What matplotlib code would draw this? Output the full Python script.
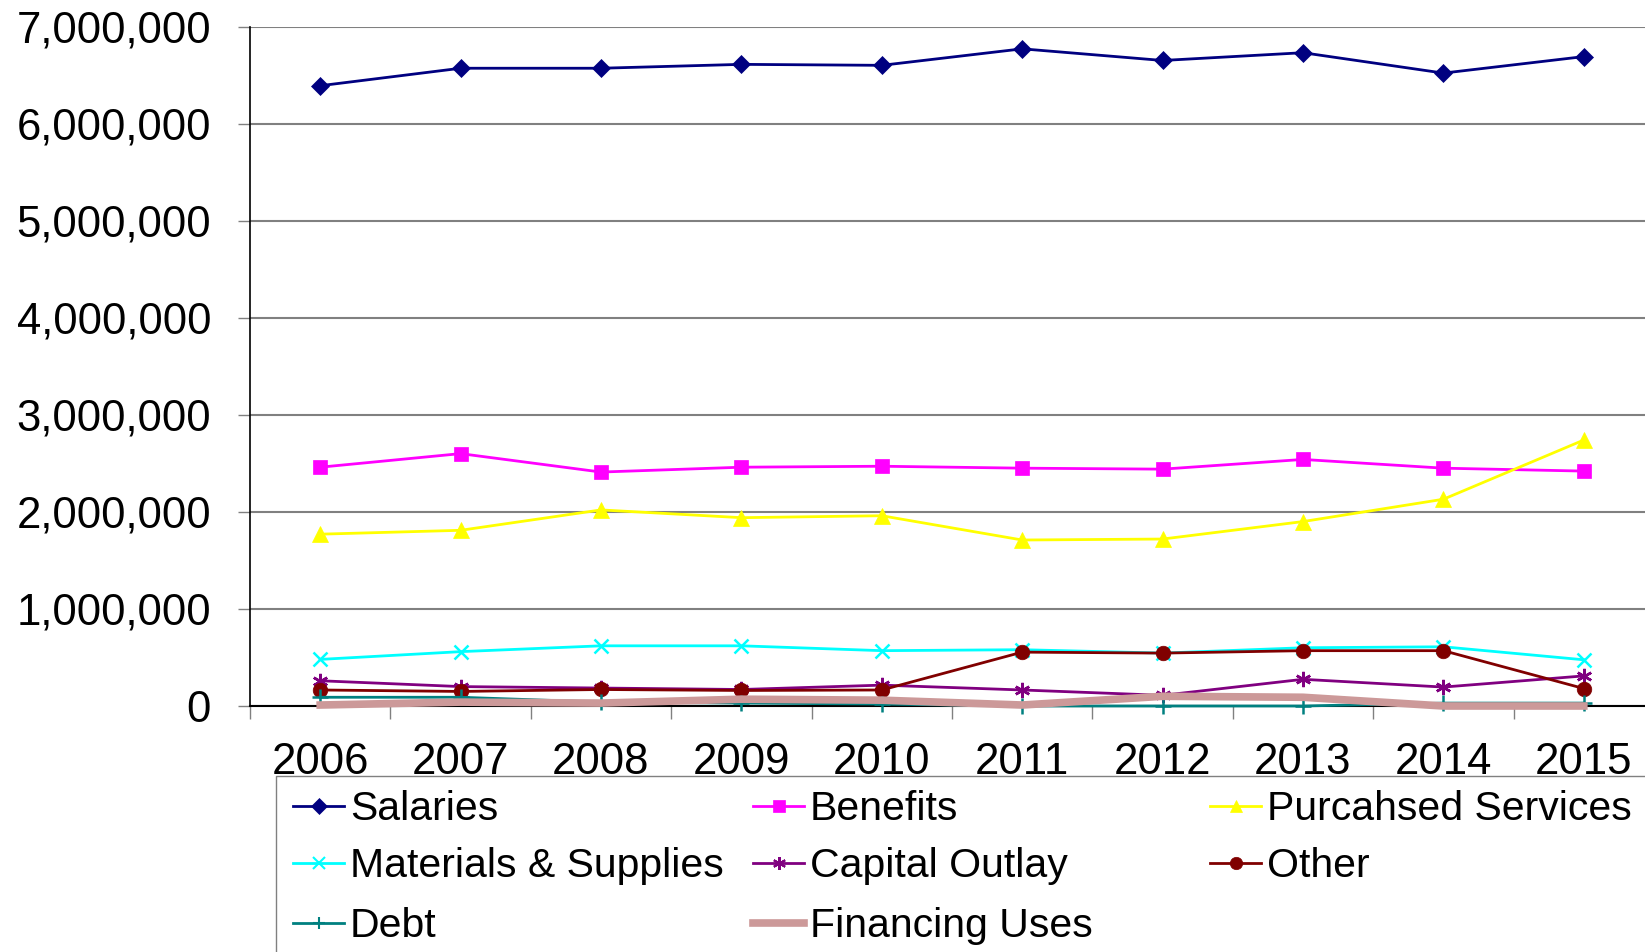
import numpy as np
import matplotlib.pyplot as plt
from matplotlib.lines import Line2D
from matplotlib.ticker import FuncFormatter, FixedLocator

plt.rcParams['font.family'] = ['Liberation Sans', 'DejaVu Sans']

# data
years = ['2006', '2007', '2008', '2009', '2010', '2011', '2012', '2013', '2014', '2015']
salaries = [6390000, 6570000, 6570000, 6610000, 6600000, 6770000, 6650000, 6730000, 6520000, 6690000]
benefits = [2460000, 2600000, 2410000, 2460000, 2470000, 2450000, 2440000, 2540000, 2450000, 2420000]
purchased = [1770000, 1810000, 2020000, 1940000, 1960000, 1710000, 1720000, 1900000, 2130000, 2740000]
materials = [480000, 560000, 620000, 620000, 570000, 580000, 545000, 600000, 610000, 476000]
capital = [260000, 200000, 185000, 170000, 215000, 165000, 110000, 275000, 195000, 310000]
other = [165000, 150000, 170000, 160000, 165000, 555000, 545000, 570000, 570000, 180000]
debt = [90000, 90000, 40000, 30000, 20000, 0, 0, 0, 30000, 30000]
financing = [10000, 40000, 30000, 70000, 60000, 10000, 100000, 90000, 0, 0]

series = [
    ('Salaries', salaries, '#000080', 'D', 9, 2.0),
    ('Benefits', benefits, '#FF00FF', 's', 10.5, 2.0),
    ('Purcahsed Services', purchased, '#FFFF00', '^', 11, 2.0),
    ('Materials & Supplies', materials, '#00FFFF', 'x', 10, 2.0),
    ('Capital Outlay', capital, '#800080', (6, 2, 0), 11, 2.0),
    ('Other', other, '#800000', 'o', 10.5, 2.0),
    ('Debt', debt, '#008080', '+', 11, 2.0),
    ('Financing Uses', financing, '#CC9999', None, 0, 5.5),
]

W, H = 1645, 952
fig = plt.figure(figsize=(W / 100, H / 100), dpi=100)
ax = fig.add_axes([250 / W, 1 - 706 / H, 1404 / W, 679.5 / H])

x = np.arange(len(years))
for name, vals, col, mk, ms, lw in series:
    ax.plot(x, vals, color=col, lw=lw, marker=mk, markersize=ms,
            markeredgewidth=1.8 if mk in ('x', '+', (6, 2, 0)) else 0.5,
            markeredgecolor=col, markerfacecolor=col, clip_on=False, zorder=3)

ax.set_xlim(-0.5, 9.5)
ax.set_ylim(0, 7000000)
ax.yaxis.set_major_locator(FixedLocator(np.arange(0, 7000001, 1000000)))
ax.yaxis.set_major_formatter(FuncFormatter(lambda v, p: f'{int(v):,}'))
ax.grid(axis='y', color='#808080', lw=1.5, zorder=0)
ax.set_xticks(x)
ax.set_xticklabels(years)
ax.set_xticks(np.arange(-0.5, 10, 1), minor=True)
ax.tick_params(axis='x', which='major', length=0, pad=26, labelsize=31.5)
ax.tick_params(axis='x', which='minor', length=9, width=1, color='#808080')
ax.tick_params(axis='y', length=9, width=1, color='#808080', pad=19, labelsize=31.5)

for s in ('top', 'right'):
    ax.spines[s].set_visible(False)
ax.spines['left'].set_color('black')
ax.spines['left'].set_linewidth(1.2)
ax.spines['bottom'].set_color('black')
ax.spines['bottom'].set_linewidth(1.5)

# legend drawn by hand to mimic the equal-width Excel columns
fig.add_artist(Line2D([276 / W, 276 / W, 1.0], [0, 1 - 776 / H, 1 - 776 / H],
                      transform=fig.transFigure, color='#808080', lw=1))
col_x = [293, 753, 1210]
row_base = [820, 877, 937]
for i, (name, vals, col, mk, ms, lw) in enumerate(series):
    cx = col_x[i % 3]
    by = row_base[i // 3]
    ly = 1 - (by - 14) / H
    fig.add_artist(Line2D([cx / W, (cx + 51) / W], [ly, ly], transform=fig.transFigure,
                          color=col, lw=lw if mk is not None else 5.5))
    if mk is not None:
        fig.add_artist(Line2D([(cx + 25.5) / W], [ly], transform=fig.transFigure,
                              color=col, marker=mk, markersize=ms * 0.85,
                              markeredgewidth=1.5 if mk in ('x', '+', (6, 2, 0)) else 0.5,
                              markeredgecolor=col, markerfacecolor=col, linestyle='none'))
    fig.text((cx + 57) / W, 1 - by / H, name, fontsize=29.5, va='baseline', ha='left')

fig.savefig('out.png', dpi=100)
